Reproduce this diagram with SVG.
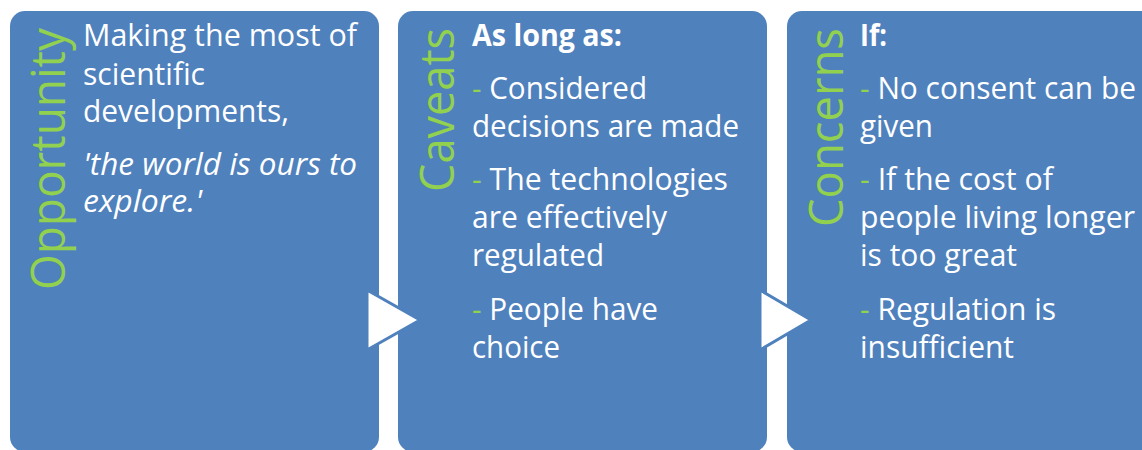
<svg xmlns="http://www.w3.org/2000/svg" width="1142" height="450" viewBox="0 0 1142 450">
<style>
.box{fill:#4F81BD;}
.lbl{font-family:"Open Sans","Noto Sans","Liberation Sans",sans-serif;font-size:47px;fill:#92D050;}
.t{font-family:"Open Sans","Noto Sans","Liberation Sans",sans-serif;font-size:31px;fill:#FFFFFF;}
.b{font-weight:bold;}
.i{font-style:italic;}
.g{fill:#92D050;}
.arrow{fill:#FFFFFF;stroke:#4F81BD;stroke-width:3;stroke-linejoin:miter;}
</style>
<rect width="1142" height="450" fill="#FFFFFF"/>
<g id="node-opportunity">
<rect class="box" x="10" y="11" width="369" height="441" rx="15" ry="15"/>
<text class="lbl" transform="translate(65,290) rotate(-90)" textLength="262" lengthAdjust="spacingAndGlyphs">Opportunity</text>
<text class="t" x="83" y="46" textLength="274" lengthAdjust="spacingAndGlyphs">Making the most of</text>
<text class="t" x="83" y="85" textLength="122" lengthAdjust="spacingAndGlyphs">scientific</text>
<text class="t" x="83" y="122" textLength="206" lengthAdjust="spacingAndGlyphs">developments,</text>
<text class="t i" x="83" y="175" textLength="274" lengthAdjust="spacingAndGlyphs">'the world is ours to</text>
<text class="t i" x="83" y="212" textLength="119" lengthAdjust="spacingAndGlyphs">explore.'</text>
</g>
<g id="node-caveats">
<rect class="box" x="398" y="11" width="369" height="441" rx="15" ry="15"/>
<text class="lbl" transform="translate(454,192) rotate(-90)" textLength="164" lengthAdjust="spacingAndGlyphs">Caveats</text>
<text class="t b" x="472" y="46" textLength="150" lengthAdjust="spacingAndGlyphs">As long as:</text>
<text class="t" x="472" y="99" textLength="175" lengthAdjust="spacingAndGlyphs"><tspan class="g">- </tspan>Considered</text>
<text class="t" x="472" y="137" textLength="267" lengthAdjust="spacingAndGlyphs">decisions are made</text>
<text class="t" x="472" y="190" textLength="256" lengthAdjust="spacingAndGlyphs"><tspan class="g">- </tspan>The technologies</text>
<text class="t" x="472" y="228" textLength="195" lengthAdjust="spacingAndGlyphs">are effectively</text>
<text class="t" x="472" y="266" textLength="132" lengthAdjust="spacingAndGlyphs">regulated</text>
<text class="t" x="472" y="320" textLength="186" lengthAdjust="spacingAndGlyphs"><tspan class="g">- </tspan>People have</text>
<text class="t" x="472" y="358" textLength="88" lengthAdjust="spacingAndGlyphs">choice</text>
</g>
<g id="node-concerns">
<rect class="box" x="787" y="11" width="369" height="441" rx="15" ry="15"/>
<text class="lbl" transform="translate(843,227) rotate(-90)" textLength="199" lengthAdjust="spacingAndGlyphs">Concerns</text>
<text class="t b" x="860" y="46" textLength="27" lengthAdjust="spacingAndGlyphs">If:</text>
<text class="t" x="860" y="99" textLength="276" lengthAdjust="spacingAndGlyphs"><tspan class="g">- </tspan>No consent can be</text>
<text class="t" x="860" y="137" textLength="73" lengthAdjust="spacingAndGlyphs">given</text>
<text class="t" x="860" y="190" textLength="193" lengthAdjust="spacingAndGlyphs"><tspan class="g">- </tspan>If the cost of</text>
<text class="t" x="860" y="228" textLength="275" lengthAdjust="spacingAndGlyphs">people living longer</text>
<text class="t" x="860" y="266" textLength="157" lengthAdjust="spacingAndGlyphs">is too great</text>
<text class="t" x="860" y="320" textLength="196" lengthAdjust="spacingAndGlyphs"><tspan class="g">- </tspan>Regulation is</text>
<text class="t" x="860" y="358" textLength="154" lengthAdjust="spacingAndGlyphs">insufficient</text>
</g>
<g id="connectors">
<polygon class="arrow" points="367,290 420,320 367,350"/>
<polygon class="arrow" points="760,290 811,320 760,350"/>
</g>
</svg>
